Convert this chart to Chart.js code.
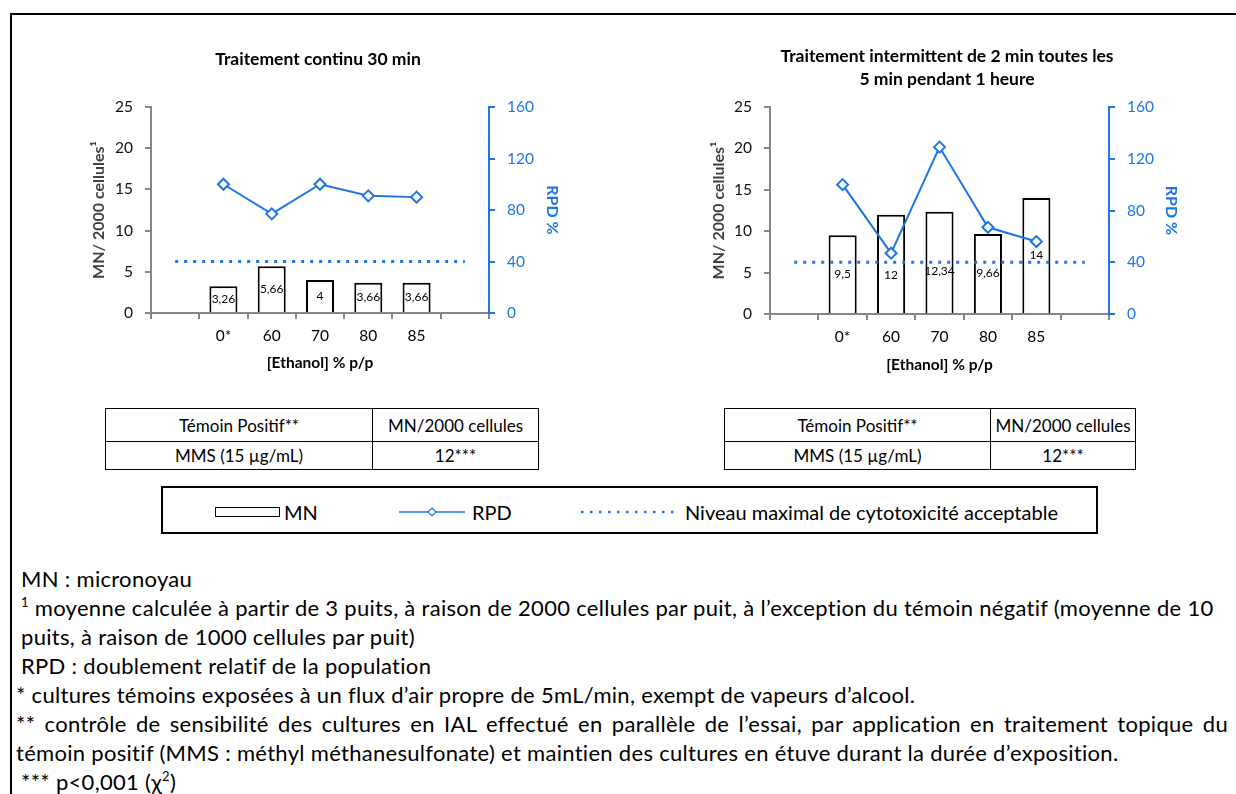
<!DOCTYPE html>
<html lang="fr">
<head>
<meta charset="utf-8">
<script src="https://cdn.jsdelivr.net/npm/chart.js@4.4.0/dist/chart.umd.min.js"></script>
<style>
  body { margin: 0; background: #fff; font-family: Lato, sans-serif; color: #000; }
  #page { position: relative; width: 1236px; height: 794px; overflow: hidden; }
  #cadre { position: absolute; left: 10px; top: 13px; width: 1300px; height: 900px; border: 2px solid #000; }
  .graph { position: absolute; top: 30px; height: 355px; }
  table.temoin { position: absolute; border-collapse: collapse; font-size: 17px; }
  table.temoin td { border: 1.5px solid #000; text-align: center; padding: 0; }
  #legende { position: absolute; left: 161px; top: 486px; width: 937px; height: 48px; border: 2px solid #000; box-sizing: border-box; }
  .leg { position: absolute; font-size: 20px; line-height: 24px; top: 500px; white-space: nowrap; }
  #notes { position: absolute; left: 16px; top: 564px; font-size: 22px; letter-spacing: 0.3px; line-height: 29px; white-space: nowrap; }
  #notes .ind { padding-left: 5px; }
  #notes .just { width: 1212px; white-space: normal; text-align: justify; text-align-last: justify; }
  #notes sup { font-size: 13px; line-height: 0; vertical-align: 9px; }
</style>
</head>
<body>
<div id="page">
  <div id="cadre"></div>

  <div class="graph" style="left:51px;width:534px"><canvas id="continu"></canvas></div>
  <div class="graph" style="left:690px;width:514px"><canvas id="intermittent"></canvas></div>

  <table class="temoin" style="left:105px;top:408px">
    <tr style="height:33px"><td style="width:266px">Témoin Positif**</td><td style="width:165px">MN/2000 cellules</td></tr>
    <tr style="height:28px"><td>MMS (15 µg/mL)</td><td>12***</td></tr>
  </table>
  <table class="temoin" style="left:724px;top:408px">
    <tr style="height:33px"><td style="width:265px">Témoin Positif**</td><td style="width:144px">MN/2000 cellules</td></tr>
    <tr style="height:28px"><td>MMS (15 µg/mL)</td><td>12***</td></tr>
  </table>

  <!-- legende commune aux deux graphiques -->
  <div id="legende"></div>
  <div style="position:absolute;left:215px;top:507px;width:65px;height:10px;border:1.5px solid #000;box-sizing:border-box"></div>
  <div class="leg" style="left:284px">MN</div>
  <svg style="position:absolute;left:399px;top:505px" width="66" height="14">
    <line x1="0" y1="7" x2="66" y2="7" stroke="#1d76e6" stroke-width="1.5"/>
    <polygon points="33,3 37,7 33,11 29,7" fill="#fff" stroke="#1d76e6" stroke-width="1.2"/>
  </svg>
  <div class="leg" style="left:472px">RPD</div>
  <svg style="position:absolute;left:580px;top:505px" width="100" height="14">
    <line x1="1" y1="7" x2="100" y2="7" stroke="#1d76e6" stroke-width="2.5" stroke-dasharray="2.5 6.5"/>
  </svg>
  <div class="leg" style="left:685px">Niveau maximal de cytotoxicité acceptable</div>

  <div id="notes">
    <div class="ind">MN : micronoyau</div>
    <div class="ind"><sup>1</sup> moyenne calculée à partir de 3 puits, à raison de 2000 cellules par puit, à l’exception du témoin négatif (moyenne de 10</div>
    <div class="ind">puits, à raison de 1000 cellules par puit)</div>
    <div class="ind">RPD : doublement relatif de la population</div>
    <div>* cultures témoins exposées à un flux d’air propre de 5mL/min, exempt de vapeurs d’alcool.</div>
    <div class="just">** contrôle de sensibilité des cultures en IAL effectué en parallèle de l’essai, par application en traitement topique du</div>
    <div>témoin positif (MMS : méthyl méthanesulfonate) et maintien des cultures en étuve durant la durée d’exposition.</div>
    <div class="ind">*** p&lt;0,001 (χ<sup>2</sup>)</div>
  </div>
</div>

<script>
// concentrations d'éthanol (une catégorie vide de chaque côté)
const concentrations = ['', '0*', '60', '70', '80', '85', ''];

// traitement continu 30 min
const mnContinu = [null, 3.26, 5.66, 4, 3.66, 3.66, null];
const rpdContinu = [null, 100, 77, 100, 91, 90, null];

// traitement intermittent 2 min / 5 min pendant 1 h
const mnIntermittent = [null, 9.5, 12, 12.34, 9.66, 14, null];
const rpdIntermittent = [null, 100, 47, 129, 67, 56, null];

// niveau maximal de cytotoxicité acceptable (RPD %)
const seuilRpd = [40, 40, 40, 40, 40, 40, 40];

const ticksMN = [0, 5, 10, 15, 20, 25];
const ticksRPD = [0, 40, 80, 120, 160];

const bleu = '#1d76e6';
const gris = '#868686';

Chart.defaults.font.family = 'Lato, sans-serif';
Chart.defaults.animation = false;

// valeurs MN écrites au milieu des barres
const etiquettes = {
  id: 'etiquettes',
  afterDatasetsDraw(chart, args, opts) {
    const ctx = chart.ctx;
    const meta = chart.getDatasetMeta(0);
    const valeurs = chart.data.datasets[0].data;
    ctx.save();
    ctx.font = '12px Lato, sans-serif';
    ctx.fillStyle = '#000';
    ctx.textAlign = 'center';
    ctx.textBaseline = 'middle';
    meta.data.forEach((barre, i) => {
      if (valeurs[i] == null) return;
      const dy = (opts.decalage && opts.decalage[i]) || 0;
      ctx.fillText(String(valeurs[i]).replace('.', ','), barre.x, (barre.y + barre.base) / 2 + dy);
    });
    ctx.restore();
  }
};

function graphique(id, titre, mn, rpd, g) {
  return new Chart(document.getElementById(id), {
    type: 'bar',
    data: {
      labels: concentrations,
      datasets: [
        {
          label: 'MN',
          data: mn,
          yAxisID: 'y',
          backgroundColor: '#fff',
          borderColor: '#000',
          borderWidth: 2,
          barPercentage: 0.58,
          categoryPercentage: 1,
          order: 3
        },
        {
          type: 'line',
          label: 'RPD',
          data: rpd,
          yAxisID: 'y1',
          borderColor: bleu,
          borderWidth: 2,
          pointStyle: 'rectRot',
          pointRadius: 5.5,
          pointBorderWidth: 2,
          pointBackgroundColor: '#fff',
          pointBorderColor: bleu,
          order: 1
        },
        {
          type: 'line',
          label: 'Niveau maximal de cytotoxicité acceptable',
          data: seuilRpd,
          yAxisID: 'y1',
          borderColor: bleu,
          borderWidth: 3,
          borderDash: [3, 6],
          pointRadius: 0,
          order: 2
        }
      ]
    },
    options: {
      responsive: true,
      maintainAspectRatio: false,
      layout: { padding: 0 },
      plugins: {
        legend: { display: false },
        tooltip: { enabled: false },
        title: {
          display: true,
          text: titre,
          color: '#000',
          font: { size: 17.5, weight: 'bold', lineHeight: '23px' },
          padding: { top: g.titreHaut, bottom: g.titreBas }
        },
        etiquettes: { decalage: g.decalage }
      },
      scales: {
        x: {
          grid: { offset: true, drawOnChartArea: false, tickLength: 6, color: gris, lineWidth: 2 },
          border: { color: gris, width: 2 },
          ticks: { color: '#000', font: { size: 15.5 }, padding: 8 },
          title: {
            display: true, text: '[Ethanol] % p/p', color: '#000',
            font: { size: 15.5, weight: 'bold' }, padding: { top: 0, bottom: g.xTitreBas }
          },
          afterFit: s => { s.height = g.xHaut; }
        },
        y: {
          position: 'left',
          min: 0, max: 25,
          afterBuildTicks: s => { s.ticks = ticksMN.map(v => ({ value: v })); },
          grid: { drawOnChartArea: false, tickLength: 6, color: gris, lineWidth: 2 },
          border: { color: gris, width: 2 },
          ticks: { color: '#111', font: { size: 15.5 }, padding: 12 },
          title: {
            display: true, text: 'MN/ 2000 cellules¹', color: '#404040',
            font: { size: 16, weight: 'bold' }, padding: { top: g.yTitre, bottom: 0 }
          },
          afterFit: s => { s.width = g.yLarg; }
        },
        y1: {
          position: 'right',
          min: 0, max: 160,
          afterBuildTicks: s => { s.ticks = ticksRPD.map(v => ({ value: v })); },
          grid: { drawOnChartArea: false, tickLength: 6, color: bleu, lineWidth: 2 },
          border: { color: bleu, width: 2 },
          ticks: { color: bleu, font: { size: 15.5 }, padding: 12 },
          title: {
            display: true, text: 'RPD %', color: bleu,
            font: { size: 16, weight: 'bold' }, padding: { top: g.y1Titre, bottom: 0 }
          },
          afterFit: s => { s.width = g.y1Larg; }
        }
      }
    },
    plugins: [etiquettes]
  });
}

graphique('continu', 'Traitement continu 30 min', mnContinu, rpdContinu, {
  titreHaut: 18, titreBas: 36, xHaut: 72, xTitreBas: 13,
  yLarg: 100, yTitre: 38, y1Larg: 96, y1Titre: 23, decalage: null
});

graphique('intermittent', ['Traitement intermittent de 2 min toutes les', '5 min pendant 1 heure'],
  mnIntermittent, rpdIntermittent, {
  titreHaut: 15, titreBas: 16, xHaut: 71, xTitreBas: 11,
  yLarg: 80, yTitre: 19, y1Larg: 95, y1Titre: 23, decalage: [0, 0, 11, 9, 0, 0, 0]
});
</script>
</body>
</html>
